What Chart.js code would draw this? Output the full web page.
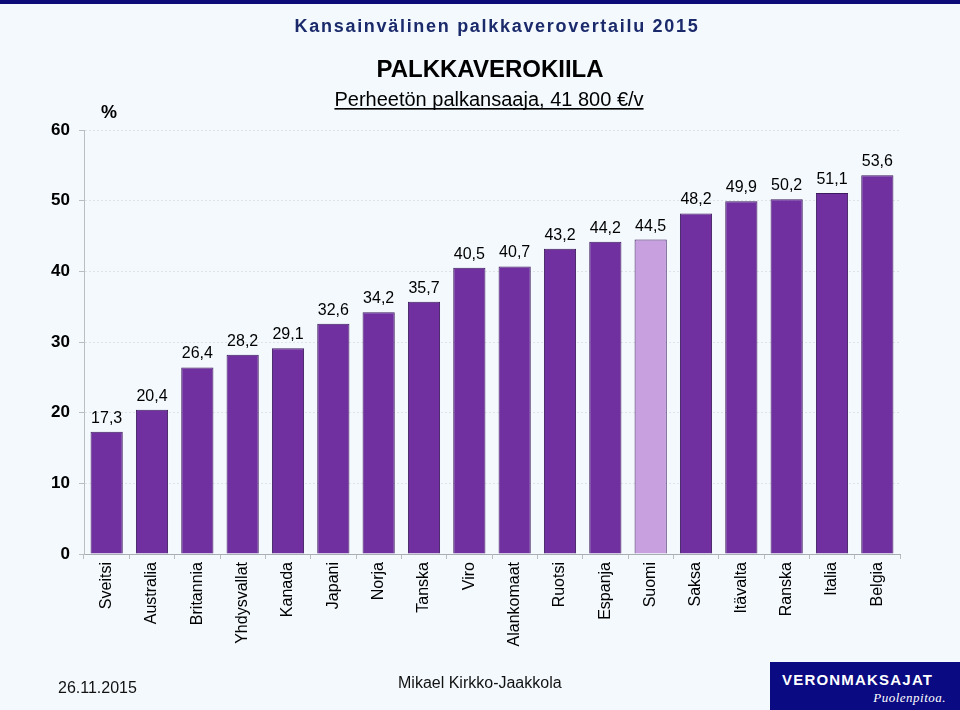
<!DOCTYPE html>
<html>
<head>
<meta charset="utf-8">
<script src="https://cdn.jsdelivr.net/npm/chart.js@4/dist/chart.umd.min.js"></script>
<style>
  html, body { margin: 0; padding: 0; background: #f3f9fd; }
  #wrap { position: relative; width: 960px; height: 710px; overflow: hidden; font-family: 'Liberation Sans', Arial, sans-serif; }
  #topbar { position: absolute; left: 0; top: 0; width: 960px; height: 4px; background: #0c0c78; }
  canvas { position: absolute; left: 0; top: 0; }
  .txt { position: absolute; white-space: nowrap; }
  #logo { position: absolute; left: 770px; top: 662px; width: 190px; height: 48px; background: #0a0a82; }
</style>
</head>
<body>
<div id="wrap">
  <div id="topbar"></div>
  <canvas id="chart" width="960" height="710"></canvas>
  <div class="txt" style="left:58px; top:679px; font-size:16px; color:#111;">26.11.2015</div>
  <div class="txt" style="left:398px; top:674px; font-size:16px; color:#111;">Mikael Kirkko-Jaakkola</div>
  <div id="logo">
    <div class="txt" style="left:12px; top:9px; font-size:15px; font-weight:bold; color:#fff; letter-spacing:1.2px;">VERONMAKSAJAT</div>
    <div class="txt" style="right:14px; top:28px; font-size:13px; font-style:italic; color:#fff; font-family:'Liberation Serif', 'DejaVu Serif', serif; letter-spacing:0.5px;">Puolenpitoa.</div>
  </div>
</div>
<script>
const countries = ['Sveitsi', 'Australia', 'Britannia', 'Yhdysvallat', 'Kanada', 'Japani', 'Norja', 'Tanska', 'Viro', 'Alankomaat', 'Ruotsi', 'Espanja', 'Suomi', 'Saksa', 'Itävalta', 'Ranska', 'Italia', 'Belgia']
const taxWedge = [17.3, 20.4, 26.4, 28.2, 29.1, 32.6, 34.2, 35.7, 40.5, 40.7, 43.2, 44.2, 44.5, 48.2, 49.9, 50.2, 51.1, 53.6]
const yTicks = [0, 10, 20, 30, 40, 50, 60]
const highlight = 'Suomi'

const barColors = countries.map(c => c === highlight ? '#c8a0e0' : '#7030a0')

// Header texts
function headerPlugin() {
  return {
    id: 'header',
    afterDraw(chart) {
      const { ctx } = chart
      ctx.save()
      ctx.textAlign = 'center'
      ctx.textBaseline = 'alphabetic'

      ctx.fillStyle = '#1b2a6b'
      ctx.font = 'bold 18px "Liberation Sans", Arial, sans-serif'
      ctx.letterSpacing = '1.7px'
      ctx.fillText('Kansainvälinen palkkaverovertailu 2015', 497, 32)
      ctx.letterSpacing = '0px'

      ctx.fillStyle = '#000'
      ctx.font = 'bold 24px "Liberation Sans", Arial, sans-serif'
      ctx.fillText('PALKKAVEROKIILA', 490, 77)

      ctx.font = '20px "Liberation Sans", Arial, sans-serif'
      const sub = 'Perheetön palkansaaja, 41 800 €/v'
      ctx.fillText(sub, 489, 106)
      const w = ctx.measureText(sub).width
      ctx.fillRect(489 - w / 2, 108, w, 1.6)

      ctx.font = 'bold 18px "Liberation Sans", Arial, sans-serif'
      ctx.fillText('%', 109, 118)
      ctx.restore()
    },
  }
}

// Value labels above the bars
function valueLabelsPlugin() {
  return {
    id: 'valueLabels',
    afterDatasetsDraw(chart) {
      const { ctx } = chart
      const meta = chart.getDatasetMeta(0)
      ctx.save()
      ctx.fillStyle = '#000'
      ctx.font = '16px "Liberation Sans", Arial, sans-serif'
      ctx.textAlign = 'center'
      ctx.textBaseline = 'alphabetic'
      meta.data.forEach((bar, i) => {
        const label = taxWedge[i].toFixed(1).replace('.', ',')
        ctx.fillText(label, bar.x, bar.y - 9)
      })
      ctx.restore()
    },
  }
}

new Chart(document.getElementById('chart'), {
  type: 'bar',
  data: {
    labels: countries,
    datasets: [{
      data: taxWedge,
      backgroundColor: barColors,
      borderColor: '#3c1a5c',
      borderWidth: 1,
      categoryPercentage: 1,
      barPercentage: 0.71,
    }],
  },
  options: {
    responsive: false,
    animation: false,
    layout: { padding: { left: 0, top: 130, right: 60, bottom: 0 } },
    plugins: {
      legend: { display: false },
      tooltip: { enabled: false },
    },
    scales: {
      x: {
        afterFit: (scale) => { scale.height = 156 },
        grid: {
          offset: true,
          drawOnChartArea: false,
          tickLength: 5,
          color: '#b8bec4',
        },
        border: { color: '#a8aeb4', width: 1 },
        ticks: {
          minRotation: 90,
          maxRotation: 90,
          padding: 3,
          autoSkip: false,
          color: '#000',
          font: { family: '"Liberation Sans", Arial, sans-serif', size: 16 },
        },
      },
      y: {
        min: 0,
        max: 60,
        afterFit: (scale) => { scale.width = 84 },
        afterBuildTicks: (scale) => { scale.ticks = yTicks.map(v => ({ value: v })) },
        grid: {
          tickLength: 5,
          color: (ctx) => ctx.tick && ctx.tick.value === 0 ? 'rgba(0,0,0,0)' : '#dde3e9',
          tickColor: '#b8bec4',
        },
        border: { color: '#b8bec4', width: 1, dash: [2, 2] },
        ticks: {
          padding: 9,
          color: '#000',
          font: { family: '"Liberation Sans", Arial, sans-serif', size: 17, weight: 'bold' },
        },
      },
    },
  },
  plugins: [headerPlugin(), valueLabelsPlugin()],
})
</script>
</body>
</html>
